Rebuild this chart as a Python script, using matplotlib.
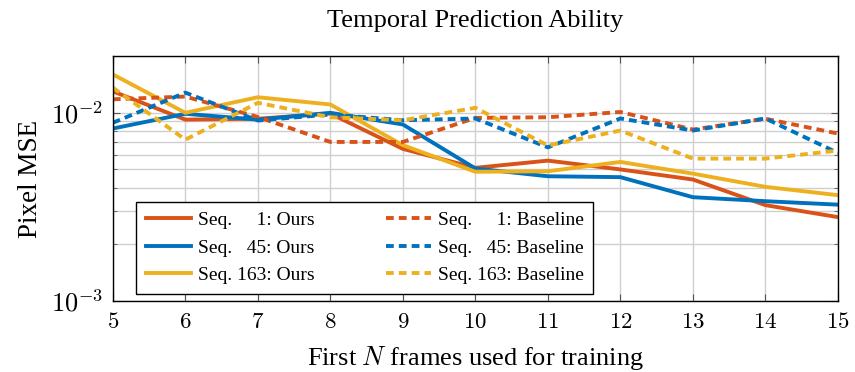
import matplotlib.pyplot as plt
from matplotlib.ticker import FixedLocator, LogLocator, NullFormatter
import numpy as np

frames = [5, 6, 7, 8, 9, 10, 11, 12, 13, 14, 15]

# pixel MSE per sequence (x1e-2)
ours_1 = [1.30, 0.92, 0.93, 0.99, 0.643, 0.51, 0.557, 0.50, 0.442, 0.323, 0.279]
ours_45 = [0.825, 0.988, 0.92, 1.00, 0.867, 0.506, 0.46, 0.455, 0.356, 0.339, 0.325]
ours_163 = [1.60, 1.00, 1.21, 1.107, 0.673, 0.486, 0.489, 0.548, 0.475, 0.404, 0.365]
base_1 = [1.18, 1.22, 0.95, 0.70, 0.70, 0.94, 0.947, 1.01, 0.815, 0.93, 0.776]
base_45 = [0.885, 1.28, 0.91, 0.98, 0.913, 0.933, 0.655, 0.933, 0.805, 0.933, 0.612]
base_163 = [1.36, 0.72, 1.13, 0.947, 0.913, 1.063, 0.67, 0.805, 0.571, 0.571, 0.63]

labels_ours = ["Seq.     1: Ours", "Seq.   45: Ours", "Seq. 163: Ours"]
labels_base = ["Seq.     1: Baseline", "Seq.   45: Baseline", "Seq. 163: Baseline"]
colors = ["#D95319", "#0072BD", "#EDB120"]

plt.rcParams['font.family'] = 'Liberation Serif'
plt.rcParams['mathtext.fontset'] = 'cm'

fig = plt.figure(figsize=(8.55, 3.72), dpi=100)
ax = fig.add_axes([0.132, 0.191, 0.848, 0.658])

lw = 2.8
for ys, lab, c in zip([ours_1, ours_45, ours_163], labels_ours, colors):
    ax.plot(frames, np.array(ys) * 1e-2, color=c, lw=lw, label=lab)
for ys, lab, c in zip([base_1, base_45, base_163], labels_base, colors):
    ax.plot(frames, np.array(ys) * 1e-2, color=c, lw=lw, label=lab,
            dashes=(2.0, 1.3))

ax.set_yscale('log')
ax.set_xlim(5, 15)
ax.set_ylim(1e-3, 2e-2)

ax.set_xticks(frames)
ax.set_xticklabels([r'$%d$' % f for f in frames])
ax.yaxis.set_major_locator(FixedLocator([1e-3, 1e-2]))
ax.set_yticklabels([r'$10^{-3}$', r'$10^{-2}$'])
ax.yaxis.set_minor_locator(LogLocator(base=10, subs=np.arange(2, 10)))
ax.yaxis.set_minor_formatter(NullFormatter())

ax.tick_params(which='both', direction='in', top=True, right=True,
               color='#555555')
ax.tick_params(axis='x', which='major', labelsize=16.5, pad=8)
ax.tick_params(axis='y', which='major', labelsize=19, pad=7)
ax.tick_params(which='major', length=5)
ax.tick_params(which='minor', length=3)
ax.grid(True, which='major', color='#cfcfcf', lw=1.0)
ax.grid(True, which='minor', axis='y', color='#cfcfcf', lw=1.0)
ax.set_axisbelow(True)
for s in ax.spines.values():
    s.set_linewidth(1.0)

ax.set_title("Temporal Prediction Ability", fontsize=19, pad=21)
ax.set_ylabel("Pixel MSE", fontsize=19.5, labelpad=6)
ax.set_xlabel(r"First $N$ frames used for training", fontsize=19, labelpad=8)

leg = ax.legend(ncol=2, loc='lower left', bbox_to_anchor=(0.032, 0.03),
                borderaxespad=0, fontsize=14, frameon=True, fancybox=False,
                framealpha=1, edgecolor='black', handlelength=2.3,
                columnspacing=3.7, labelspacing=0.5, borderpad=0.5,
                handletextpad=0.36)
leg.get_frame().set_linewidth(1.0)

fig.savefig("out.png", dpi=100)
